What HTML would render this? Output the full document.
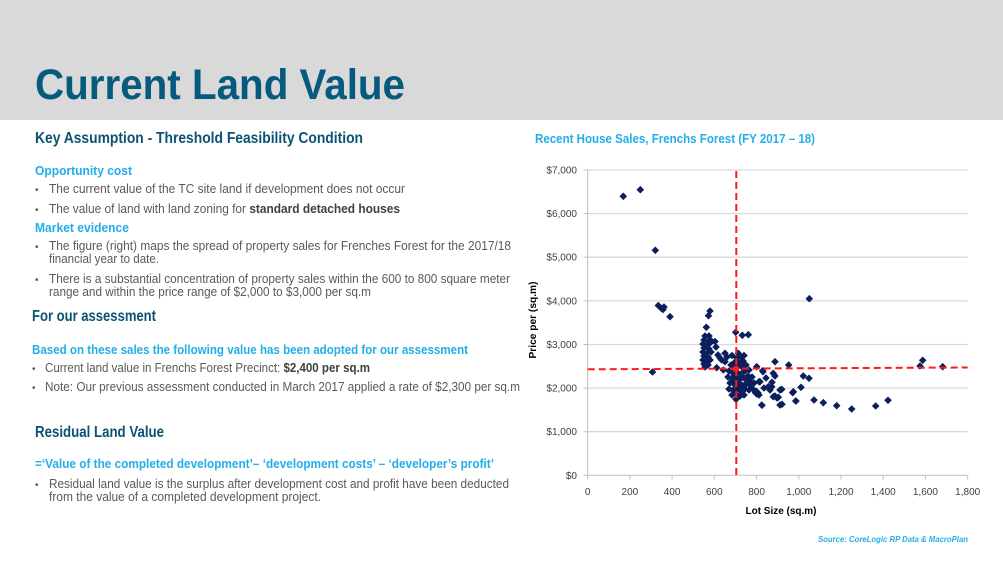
<!DOCTYPE html>
<html><head><meta charset="utf-8"><style>
html,body{margin:0;padding:0;background:#fff;}
body{width:1003px;height:564px;overflow:hidden;}
svg{display:block;font-family:"Liberation Sans",sans-serif;}
.h{font-weight:bold;fill:#0b5273;font-size:15.5px;}
.lb{font-weight:bold;fill:#22aee8;font-size:13px;}
.t{fill:#595959;font-size:13px;}
.b{fill:#595959;font-size:10px;}
.tk{fill:#404040;font-size:10px;}
</style></head><body>
<svg width="1003" height="564" viewBox="0 0 1003 564" xmlns="http://www.w3.org/2000/svg">
<defs><path id="d" d="M0 -3.8L3.8 0 0 3.8 -3.8 0z" fill="#0a1f5c"/></defs>
<rect x="0" y="0" width="1003" height="120" fill="#d9d9d9"/>
<text x="35" y="99" font-size="43" font-weight="bold" fill="#055a7d" textLength="370" lengthAdjust="spacingAndGlyphs">Current Land Value</text>

<text class="h" x="35" y="143" textLength="328" lengthAdjust="spacingAndGlyphs">Key Assumption - Threshold Feasibility Condition</text>
<text class="lb" x="35" y="175" textLength="97" lengthAdjust="spacingAndGlyphs">Opportunity cost</text>
<text class="b" x="35" y="193">•</text>
<text class="t" x="49" y="193" textLength="356" lengthAdjust="spacingAndGlyphs">The current value of the TC site land if development does not occur</text>
<text class="b" x="35" y="213">•</text>
<text class="t" x="49" y="213" textLength="351" lengthAdjust="spacingAndGlyphs">The value of land with land zoning for <tspan font-weight="bold" fill="#404040">standard detached houses</tspan></text>
<text class="lb" x="35" y="232" textLength="94" lengthAdjust="spacingAndGlyphs">Market evidence</text>
<text class="b" x="35" y="250">•</text>
<text class="t" x="49" y="250" textLength="462" lengthAdjust="spacingAndGlyphs">The figure (right) maps the spread of property sales for Frenches Forest for the 2017/18</text>
<text class="t" x="49" y="263" textLength="110" lengthAdjust="spacingAndGlyphs">financial year to date.</text>
<text class="b" x="35" y="283">•</text>
<text class="t" x="49" y="283" textLength="461" lengthAdjust="spacingAndGlyphs">There is a substantial concentration of property sales within the 600 to 800 square meter</text>
<text class="t" x="49" y="296" textLength="322" lengthAdjust="spacingAndGlyphs">range and within the price range of $2,000 to $3,000 per sq.m</text>

<text class="h" x="32" y="321" textLength="124" lengthAdjust="spacingAndGlyphs">For our assessment</text>
<text class="lb" x="32" y="354" textLength="436" lengthAdjust="spacingAndGlyphs">Based on these sales the following value has been adopted for our assessment</text>
<text class="b" x="32" y="372">•</text>
<text class="t" x="45" y="372" textLength="325" lengthAdjust="spacingAndGlyphs">Current land value in Frenchs Forest Precinct: <tspan font-weight="bold" fill="#404040">$2,400 per sq.m</tspan></text>
<text class="b" x="32" y="391">•</text>
<text class="t" x="45" y="391" textLength="475" lengthAdjust="spacingAndGlyphs">Note: Our previous assessment conducted in March 2017 applied a rate of $2,300 per sq.m</text>

<text class="h" x="35" y="437" textLength="129" lengthAdjust="spacingAndGlyphs">Residual Land Value</text>
<text class="lb" x="35" y="468" textLength="459" lengthAdjust="spacingAndGlyphs">=‘Value of the completed development’– ‘development costs’ – ‘developer’s profit’</text>
<text class="b" x="35" y="488">•</text>
<text class="t" x="49" y="488" textLength="460" lengthAdjust="spacingAndGlyphs">Residual land value is the surplus after development cost and profit have been deducted</text>
<text class="t" x="49" y="501" textLength="272" lengthAdjust="spacingAndGlyphs">from the value of a completed development project.</text>

<!-- Chart -->
<text class="lb" x="535" y="143" textLength="280" lengthAdjust="spacingAndGlyphs">Recent House Sales, Frenchs Forest (FY 2017 – 18)</text>
<g stroke="#d9d9d9" stroke-width="1.3">
<line x1="587.7" y1="170" x2="967.7" y2="170"/>
<line x1="587.7" y1="213.6" x2="967.7" y2="213.6"/>
<line x1="587.7" y1="257.2" x2="967.7" y2="257.2"/>
<line x1="587.7" y1="300.9" x2="967.7" y2="300.9"/>
<line x1="587.7" y1="344.5" x2="967.7" y2="344.5"/>
<line x1="587.7" y1="388.1" x2="967.7" y2="388.1"/>
<line x1="587.7" y1="431.7" x2="967.7" y2="431.7"/>
</g>
<g stroke="#bfbfbf" stroke-width="1">
<line x1="587.7" y1="170" x2="587.7" y2="475.3"/>
<line x1="587.7" y1="475.3" x2="967.7" y2="475.3"/>
<line x1="583.5" y1="170" x2="587.7" y2="170"/>
<line x1="583.5" y1="213.6" x2="587.7" y2="213.6"/>
<line x1="583.5" y1="257.2" x2="587.7" y2="257.2"/>
<line x1="583.5" y1="300.9" x2="587.7" y2="300.9"/>
<line x1="583.5" y1="344.5" x2="587.7" y2="344.5"/>
<line x1="583.5" y1="388.1" x2="587.7" y2="388.1"/>
<line x1="583.5" y1="431.7" x2="587.7" y2="431.7"/>
<line x1="583.5" y1="475.3" x2="587.7" y2="475.3"/>
<line x1="587.7" y1="475.3" x2="587.7" y2="479.5"/>
<line x1="629.9" y1="475.3" x2="629.9" y2="479.5"/>
<line x1="672.1" y1="475.3" x2="672.1" y2="479.5"/>
<line x1="714.3" y1="475.3" x2="714.3" y2="479.5"/>
<line x1="756.6" y1="475.3" x2="756.6" y2="479.5"/>
<line x1="798.8" y1="475.3" x2="798.8" y2="479.5"/>
<line x1="841" y1="475.3" x2="841" y2="479.5"/>
<line x1="883.2" y1="475.3" x2="883.2" y2="479.5"/>
<line x1="925.4" y1="475.3" x2="925.4" y2="479.5"/>
<line x1="967.7" y1="475.3" x2="967.7" y2="479.5"/>
</g>
<g class="tk" text-anchor="end">
<text x="577" y="173.5">$7,000</text>
<text x="577" y="217.1">$6,000</text>
<text x="577" y="260.7">$5,000</text>
<text x="577" y="304.4">$4,000</text>
<text x="577" y="348">$3,000</text>
<text x="577" y="391.6">$2,000</text>
<text x="577" y="435.2">$1,000</text>
<text x="577" y="478.8">$0</text>
</g>
<g class="tk" text-anchor="middle">
<text x="587.7" y="495">0</text>
<text x="629.9" y="495">200</text>
<text x="672.1" y="495">400</text>
<text x="714.3" y="495">600</text>
<text x="756.6" y="495">800</text>
<text x="798.8" y="495">1,000</text>
<text x="841" y="495">1,200</text>
<text x="883.2" y="495">1,400</text>
<text x="925.4" y="495">1,600</text>
<text x="967.7" y="495">1,800</text>
</g>
<text x="781" y="514" text-anchor="middle" font-size="10" font-weight="bold" fill="#000" textLength="71" lengthAdjust="spacingAndGlyphs">Lot Size (sq.m)</text>
<text transform="translate(536,320) rotate(-90)" text-anchor="middle" font-size="10" font-weight="bold" fill="#000" textLength="77" lengthAdjust="spacingAndGlyphs">Price per (sq.m)</text>

<path fill="#0a1f5c" d="
M623.3 192.5l3.8 3.8-3.8 3.8-3.8-3.8z
M640.3 185.9l3.8 3.8-3.8 3.8-3.8-3.8z
M655.3 246.5l3.8 3.8-3.8 3.8-3.8-3.8z
M658.3 301.7l3.8 3.8-3.8 3.8-3.8-3.8z
M661.5 304.7l3.8 3.8-3.8 3.8-3.8-3.8z
M664 303.2l3.8 3.8-3.8 3.8-3.8-3.8z
M663 305.7l3.8 3.8-3.8 3.8-3.8-3.8z
M670 312.9l3.8 3.8-3.8 3.8-3.8-3.8z
M652.5 368.2l3.8 3.8-3.8 3.8-3.8-3.8z
M708.5 311.9l3.8 3.8-3.8 3.8-3.8-3.8z
M710 307.2l3.8 3.8-3.8 3.8-3.8-3.8z
M809.3 294.9l3.8 3.8-3.8 3.8-3.8-3.8z
M706.3 323.5l3.8 3.8-3.8 3.8-3.8-3.8z
M705 332.2l3.8 3.8-3.8 3.8-3.8-3.8z
M704 336.2l3.8 3.8-3.8 3.8-3.8-3.8z
M708 337.2l3.8 3.8-3.8 3.8-3.8-3.8z
M703 340.2l3.8 3.8-3.8 3.8-3.8-3.8z
M707 341.2l3.8 3.8-3.8 3.8-3.8-3.8z
M710 339.2l3.8 3.8-3.8 3.8-3.8-3.8z
M704 344.2l3.8 3.8-3.8 3.8-3.8-3.8z
M709 345.2l3.8 3.8-3.8 3.8-3.8-3.8z
M703 348.2l3.8 3.8-3.8 3.8-3.8-3.8z
M707 349.2l3.8 3.8-3.8 3.8-3.8-3.8z
M711 348.2l3.8 3.8-3.8 3.8-3.8-3.8z
M704 352.2l3.8 3.8-3.8 3.8-3.8-3.8z
M708 353.2l3.8 3.8-3.8 3.8-3.8-3.8z
M703 356.2l3.8 3.8-3.8 3.8-3.8-3.8z
M707 357.2l3.8 3.8-3.8 3.8-3.8-3.8z
M710 356.2l3.8 3.8-3.8 3.8-3.8-3.8z
M704 360.2l3.8 3.8-3.8 3.8-3.8-3.8z
M708 361.2l3.8 3.8-3.8 3.8-3.8-3.8z
M705 363.2l3.8 3.8-3.8 3.8-3.8-3.8z
M711 336.9l3.8 3.8-3.8 3.8-3.8-3.8z
M715 337.7l3.8 3.8-3.8 3.8-3.8-3.8z
M716 343.2l3.8 3.8-3.8 3.8-3.8-3.8z
M709 332.2l3.8 3.8-3.8 3.8-3.8-3.8z
M725 349.5l3.8 3.8-3.8 3.8-3.8-3.8z
M721.7 356.2l3.8 3.8-3.8 3.8-3.8-3.8z
M725 357.9l3.8 3.8-3.8 3.8-3.8-3.8z
M716.7 363.9l3.8 3.8-3.8 3.8-3.8-3.8z
M723.3 366.2l3.8 3.8-3.8 3.8-3.8-3.8z
M720 354.2l3.8 3.8-3.8 3.8-3.8-3.8z
M727 353.2l3.8 3.8-3.8 3.8-3.8-3.8z
M718 351.2l3.8 3.8-3.8 3.8-3.8-3.8z
M735.7 328.5l3.8 3.8-3.8 3.8-3.8-3.8z
M742.3 331.5l3.8 3.8-3.8 3.8-3.8-3.8z
M748.3 330.9l3.8 3.8-3.8 3.8-3.8-3.8z
M738.3 349.5l3.8 3.8-3.8 3.8-3.8-3.8z
M737 354.2l3.8 3.8-3.8 3.8-3.8-3.8z
M741 353.2l3.8 3.8-3.8 3.8-3.8-3.8z
M735 358.2l3.8 3.8-3.8 3.8-3.8-3.8z
M739 359.2l3.8 3.8-3.8 3.8-3.8-3.8z
M743 357.2l3.8 3.8-3.8 3.8-3.8-3.8z
M731 361.2l3.8 3.8-3.8 3.8-3.8-3.8z
M734 364.2l3.8 3.8-3.8 3.8-3.8-3.8z
M738 362.2l3.8 3.8-3.8 3.8-3.8-3.8z
M742 363.2l3.8 3.8-3.8 3.8-3.8-3.8z
M746 361.2l3.8 3.8-3.8 3.8-3.8-3.8z
M729 367.2l3.8 3.8-3.8 3.8-3.8-3.8z
M733 369.2l3.8 3.8-3.8 3.8-3.8-3.8z
M737 368.2l3.8 3.8-3.8 3.8-3.8-3.8z
M741 370.2l3.8 3.8-3.8 3.8-3.8-3.8z
M745 367.2l3.8 3.8-3.8 3.8-3.8-3.8z
M749 366.2l3.8 3.8-3.8 3.8-3.8-3.8z
M728 373.2l3.8 3.8-3.8 3.8-3.8-3.8z
M732 374.2l3.8 3.8-3.8 3.8-3.8-3.8z
M736 373.2l3.8 3.8-3.8 3.8-3.8-3.8z
M740 375.2l3.8 3.8-3.8 3.8-3.8-3.8z
M744 374.2l3.8 3.8-3.8 3.8-3.8-3.8z
M748 372.2l3.8 3.8-3.8 3.8-3.8-3.8z
M752 373.2l3.8 3.8-3.8 3.8-3.8-3.8z
M730 379.2l3.8 3.8-3.8 3.8-3.8-3.8z
M734 380.2l3.8 3.8-3.8 3.8-3.8-3.8z
M738 379.2l3.8 3.8-3.8 3.8-3.8-3.8z
M742 381.2l3.8 3.8-3.8 3.8-3.8-3.8z
M746 380.2l3.8 3.8-3.8 3.8-3.8-3.8z
M750 378.2l3.8 3.8-3.8 3.8-3.8-3.8z
M754 379.2l3.8 3.8-3.8 3.8-3.8-3.8z
M729 385.2l3.8 3.8-3.8 3.8-3.8-3.8z
M733 386.2l3.8 3.8-3.8 3.8-3.8-3.8z
M737 385.2l3.8 3.8-3.8 3.8-3.8-3.8z
M741 387.2l3.8 3.8-3.8 3.8-3.8-3.8z
M745 385.2l3.8 3.8-3.8 3.8-3.8-3.8z
M749 386.2l3.8 3.8-3.8 3.8-3.8-3.8z
M732 391.2l3.8 3.8-3.8 3.8-3.8-3.8z
M736 390.2l3.8 3.8-3.8 3.8-3.8-3.8z
M740 392.2l3.8 3.8-3.8 3.8-3.8-3.8z
M744 391.2l3.8 3.8-3.8 3.8-3.8-3.8z
M736 395.5l3.8 3.8-3.8 3.8-3.8-3.8z
M734 376.2l3.8 3.8-3.8 3.8-3.8-3.8z
M739 383.2l3.8 3.8-3.8 3.8-3.8-3.8z
M747 376.2l3.8 3.8-3.8 3.8-3.8-3.8z
M751 382.2l3.8 3.8-3.8 3.8-3.8-3.8z
M756.7 362.9l3.8 3.8-3.8 3.8-3.8-3.8z
M775 357.9l3.8 3.8-3.8 3.8-3.8-3.8z
M788.7 361.2l3.8 3.8-3.8 3.8-3.8-3.8z
M762.7 366.9l3.8 3.8-3.8 3.8-3.8-3.8z
M775 372.2l3.8 3.8-3.8 3.8-3.8-3.8z
M760 377.9l3.8 3.8-3.8 3.8-3.8-3.8z
M756.7 387.7l5 5-5 5-5-5z
M754 386.2l3.8 3.8-3.8 3.8-3.8-3.8z
M759 391.2l3.8 3.8-3.8 3.8-3.8-3.8z
M761.7 401.2l3.8 3.8-3.8 3.8-3.8-3.8z
M771.7 382.9l3.8 3.8-3.8 3.8-3.8-3.8z
M780 386.2l3.8 3.8-3.8 3.8-3.8-3.8z
M773.3 392.9l3.8 3.8-3.8 3.8-3.8-3.8z
M777 394.2l3.8 3.8-3.8 3.8-3.8-3.8z
M793.3 387.9l3.8 3.8-3.8 3.8-3.8-3.8z
M801 383.5l3.8 3.8-3.8 3.8-3.8-3.8z
M803.3 372.2l3.8 3.8-3.8 3.8-3.8-3.8z
M809 374.5l3.8 3.8-3.8 3.8-3.8-3.8z
M796 397.2l3.8 3.8-3.8 3.8-3.8-3.8z
M814 396.2l3.8 3.8-3.8 3.8-3.8-3.8z
M823.3 398.9l3.8 3.8-3.8 3.8-3.8-3.8z
M836.7 401.9l3.8 3.8-3.8 3.8-3.8-3.8z
M780 401.2l3.8 3.8-3.8 3.8-3.8-3.8z
M782 400.5l3.8 3.8-3.8 3.8-3.8-3.8z
M763 367.9l3.8 3.8-3.8 3.8-3.8-3.8z
M773.3 369.5l3.8 3.8-3.8 3.8-3.8-3.8z
M750 374.5l3.8 3.8-3.8 3.8-3.8-3.8z
M759 377.9l3.8 3.8-3.8 3.8-3.8-3.8z
M772 378.5l3.8 3.8-3.8 3.8-3.8-3.8z
M768.3 382.9l3.8 3.8-3.8 3.8-3.8-3.8z
M781.7 385.5l3.8 3.8-3.8 3.8-3.8-3.8z
M792.7 388.9l3.8 3.8-3.8 3.8-3.8-3.8z
M757.3 389.5l3.8 3.8-3.8 3.8-3.8-3.8z
M775 392.2l3.8 3.8-3.8 3.8-3.8-3.8z
M778.3 393.5l3.8 3.8-3.8 3.8-3.8-3.8z
M795.7 397.2l3.8 3.8-3.8 3.8-3.8-3.8z
M762 401.5l3.8 3.8-3.8 3.8-3.8-3.8z
M851.7 405.2l3.8 3.8-3.8 3.8-3.8-3.8z
M875.7 402.2l3.8 3.8-3.8 3.8-3.8-3.8z
M888 396.5l3.8 3.8-3.8 3.8-3.8-3.8z
M920 362.2l3.8 3.8-3.8 3.8-3.8-3.8z
M922.7 356.5l3.8 3.8-3.8 3.8-3.8-3.8z
M942.7 362.9l3.8 3.8-3.8 3.8-3.8-3.8z
M766 374.2l3.8 3.8-3.8 3.8-3.8-3.8z
M770 386.2l3.8 3.8-3.8 3.8-3.8-3.8z
M764 384.2l3.8 3.8-3.8 3.8-3.8-3.8z
M736 370.7l3.8 3.8-3.8 3.8-3.8-3.8z
M732 351.7l3.8 3.8-3.8 3.8-3.8-3.8z
M744 351.7l3.8 3.8-3.8 3.8-3.8-3.8z
"/>
<g stroke="#ff1a1a" stroke-width="2" stroke-dasharray="7,4" fill="none">
<line x1="736.3" y1="171" x2="736.3" y2="475"/>
<line x1="587.7" y1="369.3" x2="967.7" y2="367.5"/>
</g>
<circle cx="736" cy="369" r="3.3" fill="#ff1a1a"/>

<text x="968" y="542" text-anchor="end" font-size="8" font-weight="bold" font-style="italic" fill="#22aee8" textLength="150" lengthAdjust="spacingAndGlyphs">Source: CoreLogic RP Data &amp; MacroPlan</text>
</svg>
</body></html>
